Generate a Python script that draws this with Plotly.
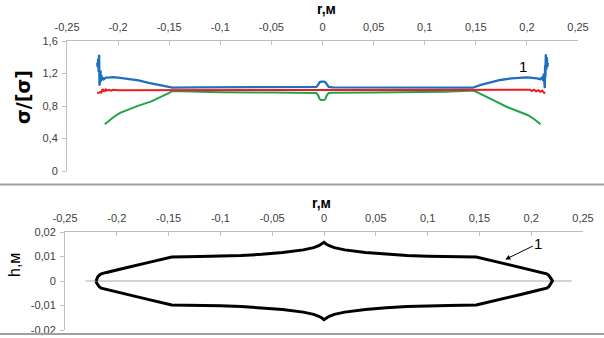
import plotly.graph_objects as go

W, H = 604, 338

# ---------------- data: top chart (sigma / [sigma]) ----------------
blue_r = [-0.2205, -0.2200, -0.2195, -0.2190, -0.2186, -0.2182, -0.2179, -0.2176, -0.2172,
          -0.2168, -0.2163, -0.2158, -0.2150, -0.2140, -0.2120, -0.2100, -0.2050, -0.2000,
          -0.1900, -0.1800, -0.1700, -0.1600, -0.1500, -0.1470, -0.1200, -0.1000, -0.0500,
          -0.0100, -0.0060, -0.0040, -0.0030, -0.0015, 0.0, 0.0015, 0.0030, 0.0040, 0.0060,
          0.0100, 0.0500, 0.1000, 0.1200, 0.1470, 0.1550, 0.1650, 0.1740, 0.1850, 0.2000,
          0.2100, 0.2130, 0.2150, 0.2160, 0.2165, 0.2170, 0.2175, 0.2178, 0.2181, 0.2185,
          0.2190, 0.2195, 0.2200, 0.2205]
blue_s = [1.33, 1.28, 1.38, 1.22, 1.43, 1.05, 1.30, 1.12, 1.24,
          1.10, 1.18, 1.12, 1.15, 1.13, 1.15, 1.15, 1.155, 1.15,
          1.135, 1.115, 1.085, 1.055, 1.030, 1.025, 1.030, 1.030, 1.030,
          1.030, 1.035, 1.065, 1.090, 1.100, 1.100, 1.100, 1.090, 1.065, 1.035,
          1.030, 1.030, 1.030, 1.030, 1.025, 1.060, 1.095, 1.120, 1.140, 1.153,
          1.140, 1.130, 1.150, 1.110, 1.200, 1.120, 1.020, 1.300, 1.150, 1.436,
          1.250, 1.400, 1.280, 1.330]

red_r = [-0.2205, -0.2190, -0.2175, -0.2165, -0.2160, -0.2155, -0.2150, -0.2145, -0.2130,
         -0.2120, -0.2110, -0.2090, -0.2070, -0.2050, -0.2000, -0.1500, -0.1000, -0.0500,
         0.0, 0.0500, 0.1000, 0.1500, 0.2000, 0.2030, 0.2050, 0.2070, 0.2090, 0.2110,
         0.2130, 0.2150, 0.2165, 0.2180]
red_s = [0.965, 0.960, 0.970, 0.965, 0.990, 1.000, 0.975, 1.000, 0.985,
         1.005, 0.990, 1.000, 0.990, 1.000, 0.995, 0.997, 0.997, 0.997,
         0.997, 0.997, 0.997, 0.997, 0.995, 1.000, 0.985, 1.000, 0.980, 0.995,
         0.975, 0.990, 0.965, 0.960]

green_r = [-0.2130, -0.2080, -0.2040, -0.1980, -0.1910, -0.1800, -0.1680, -0.1580, -0.1500,
           -0.1470, -0.1200, -0.1000, -0.0500, -0.0100, -0.0060, -0.0040, -0.0030, -0.0015,
           0.0, 0.0015, 0.0030, 0.0040, 0.0060, 0.0100, 0.0500, 0.1000, 0.1200, 0.1480,
           0.1600, 0.1700, 0.1800, 0.1900, 0.2006, 0.2070, 0.2133]
green_s = [0.575, 0.625, 0.668, 0.715, 0.751, 0.805, 0.853, 0.910, 0.960,
           0.985, 0.975, 0.970, 0.965, 0.962, 0.960, 0.925, 0.890, 0.875,
           0.875, 0.875, 0.890, 0.925, 0.960, 0.962, 0.965, 0.970, 0.975, 0.990,
           0.920, 0.853, 0.791, 0.742, 0.689, 0.640, 0.575]

# ---------------- data: bottom chart (thickness profile h) ----------------
prof_r = [-0.2200, -0.2195, -0.2185, -0.2170, -0.2150, -0.2100, -0.2056, -0.1900, -0.1700,
          -0.1470, -0.1200, -0.1000, -0.0800, -0.0600, -0.0400, -0.0200, -0.0100, -0.0050,
          -0.0020, 0.0, 0.0020, 0.0050, 0.0100, 0.0200, 0.0400, 0.0600, 0.0800, 0.1000,
          0.1200, 0.1470, 0.1700, 0.1900, 0.2056, 0.2100, 0.2150, 0.2170, 0.2185, 0.2195,
          0.2205]
prof_h = [0.0, 0.0008, 0.0016, 0.0023, 0.0029, 0.0035, 0.0039, 0.0055, 0.0075,
          0.0098, 0.0100, 0.0101, 0.0104, 0.0109, 0.0116, 0.0127, 0.0136, 0.0144,
          0.0151, 0.0158, 0.0151, 0.0144, 0.0136, 0.0127, 0.0116, 0.0109, 0.0104, 0.0101,
          0.0100, 0.0098, 0.0075, 0.0055, 0.0039, 0.0035, 0.0029, 0.0023, 0.0016, 0.0008,
          0.0]
axis0_r = [-0.2300, 0.2390]
axis0_h = [0.0, 0.0]

# ---------------- ticks ----------------
x_tickvals = [-0.25, -0.2, -0.15, -0.1, -0.05, 0.0, 0.05, 0.1, 0.15, 0.2, 0.25]
x_ticktext = ["-0,25", "-0,2", "-0,15", "-0,1", "-0,05", "0", "0,05", "0,1", "0,15", "0,2", "0,25"]
y1_tickvals = [0, 0.4, 0.8, 1.2, 1.6]
y1_ticktext = ["0", "0,4", "0,8", "1,2", "1,6"]
y2_tickvals = [-0.02, -0.01, 0.0, 0.01, 0.02]
y2_ticktext = ["-0,02", "-0,01", "0", "0,01", "0,02"]

# closed profile: upper contour then mirrored lower contour
shape_r = prof_r + prof_r[::-1]
shape_h = prof_h + [-v for v in prof_h[::-1]]

fig = go.Figure()
fig.add_trace(go.Scatter(x=green_r, y=green_s, mode="lines", line=dict(color="#22a34a", width=2),
                         xaxis="x", yaxis="y", showlegend=False))
fig.add_trace(go.Scatter(x=red_r, y=red_s, mode="lines", line=dict(color="#ee1c1c", width=2),
                         xaxis="x", yaxis="y", showlegend=False))
fig.add_trace(go.Scatter(x=blue_r, y=blue_s, mode="lines", line=dict(color="#1f6fc0", width=2.3),
                         xaxis="x", yaxis="y", showlegend=False))
fig.add_trace(go.Scatter(x=axis0_r, y=axis0_h, mode="lines", line=dict(color="#a6a6a6", width=1),
                         xaxis="x2", yaxis="y2", showlegend=False))
fig.add_trace(go.Scatter(x=shape_r, y=shape_h, mode="lines", line=dict(color="#000000", width=3),
                         xaxis="x2", yaxis="y2", showlegend=False))

FONT = "Liberation Sans"
tickfont = dict(family=FONT, size=11, color="#404040")
axcol = "#bfbfbf"

def px_x(p):
    return p / W

def px_y(p):
    return 1 - p / H

common_x = dict(range=[-0.25, 0.25], side="top", tickvals=x_tickvals, ticktext=x_ticktext,
                ticks="inside", ticklen=4, tickcolor=axcol, showline=True, linecolor=axcol,
                linewidth=1, showgrid=False, zeroline=False, tickfont=tickfont,
                automargin=False, ticklabelstandoff=5)
common_y = dict(ticks="outside", ticklen=4, tickcolor=axcol, showline=True, linecolor=axcol,
                linewidth=1, showgrid=False, zeroline=False, tickfont=tickfont,
                automargin=False, ticklabelstandoff=2)

def ann(text, x, y, size, bold=False, angle=0, family=FONT):
    return dict(text=f"<b>{text}</b>" if bold else text, xref="paper", yref="paper",
                x=px_x(x), y=px_y(y), xanchor="center", yanchor="middle", textangle=angle,
                showarrow=False, font=dict(family=family, size=size, color="#000"))

fig.update_layout(
    template="none",
    width=W, height=H, margin=dict(l=0, r=0, t=0, b=0, pad=0),
    paper_bgcolor="white", plot_bgcolor="white",
    xaxis=dict(domain=[px_x(67), px_x(578)], anchor="y", **common_x),
    yaxis=dict(domain=[px_y(171), px_y(41)], anchor="x", range=[0, 1.6],
               tickvals=y1_tickvals, ticktext=y1_ticktext, **common_y),
    xaxis2=dict(domain=[px_x(65), px_x(583)], anchor="y2", **common_x),
    yaxis2=dict(domain=[px_y(330), px_y(232)], anchor="x2", range=[-0.02, 0.02],
                tickvals=y2_tickvals, ticktext=y2_ticktext, **common_y),
    shapes=[
        dict(type="line", xref="paper", yref="paper", x0=0, x1=1, y0=px_y(184.5), y1=px_y(184.5),
             line=dict(color="#a0a0a0", width=2)),
        dict(type="line", xref="paper", yref="paper", x0=0, x1=1, y0=px_y(334), y1=px_y(334),
             line=dict(color="#a0a0a0", width=2)),
    ],
    annotations=[
        ann("r,м", 326, 9, 14, bold=True),
        ann("r,м", 321, 203, 14, bold=True),
        ann("σ/[σ]", 23, 97, 19, bold=True, angle=-90, family="DejaVu Sans"),
        ann("h,м", 14, 265, 16, angle=-90),
        dict(text="1", xref="x", yref="y", x=0.1957, y=1.28, showarrow=False,
             xanchor="center", yanchor="middle",
             font=dict(family=FONT, size=15, color="#000")),
        dict(text="1", xref="x2", yref="y2", x=0.175, y=0.0088, ax=33, ay=-16,
             showarrow=True, arrowhead=2, arrowsize=1, arrowwidth=1, arrowcolor="#000",
             font=dict(family=FONT, size=15, color="#000")),
    ],
)

fig.write_html("out.html")
